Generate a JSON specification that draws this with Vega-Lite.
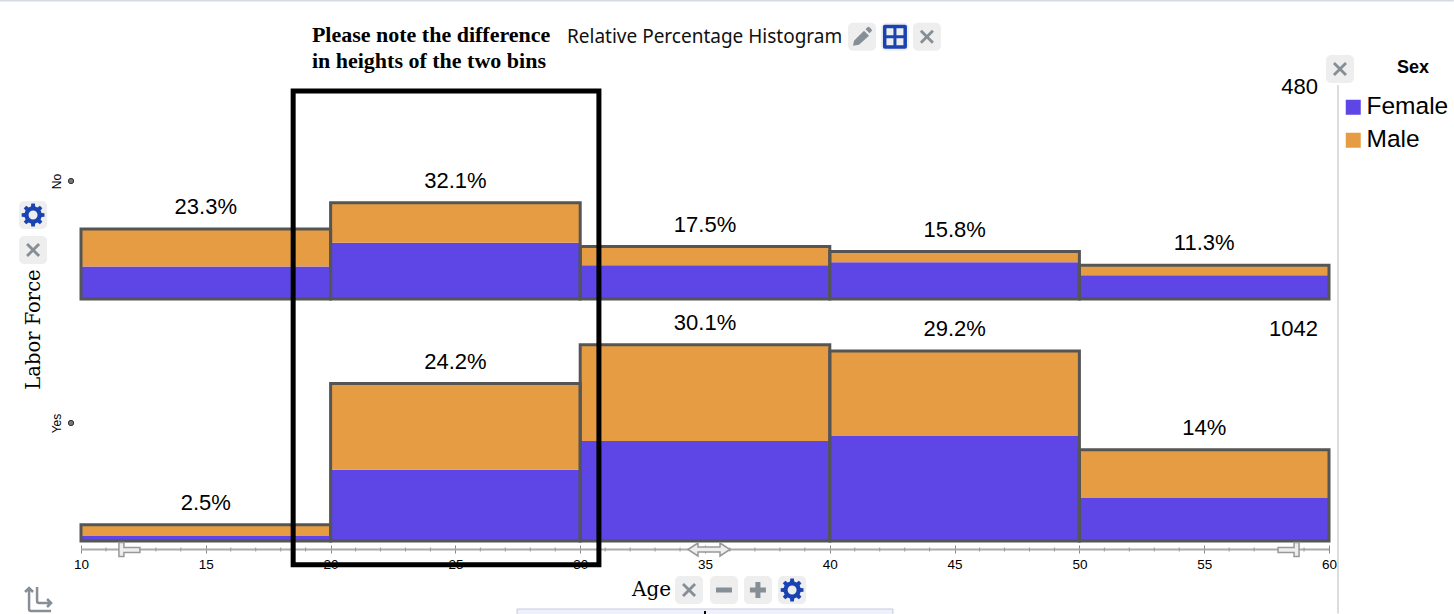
{
  "$schema": "https://vega.github.io/schema/vega-lite/v6.json",
  "width": 1248,
  "height": 541,
  "autosize": "none",
  "padding": {"left": 81, "top": 0, "right": 125, "bottom": 73},
  "background": "white",
  "datasets": {
    "bins": [
      {"labor": "No", "start": 10, "end": 20, "sex": "Female", "count": 52},
      {"labor": "No", "start": 10, "end": 20, "sex": "Male", "count": 60},
      {"labor": "No", "start": 20, "end": 30, "sex": "Female", "count": 90},
      {"labor": "No", "start": 20, "end": 30, "sex": "Male", "count": 64},
      {"labor": "No", "start": 30, "end": 40, "sex": "Female", "count": 54},
      {"labor": "No", "start": 30, "end": 40, "sex": "Male", "count": 30},
      {"labor": "No", "start": 40, "end": 50, "sex": "Female", "count": 59},
      {"labor": "No", "start": 40, "end": 50, "sex": "Male", "count": 17},
      {"labor": "No", "start": 50, "end": 60, "sex": "Female", "count": 38},
      {"labor": "No", "start": 50, "end": 60, "sex": "Male", "count": 16},
      {"labor": "Yes", "start": 10, "end": 20, "sex": "Female", "count": 8},
      {"labor": "Yes", "start": 10, "end": 20, "sex": "Male", "count": 18},
      {"labor": "Yes", "start": 20, "end": 30, "sex": "Female", "count": 114},
      {"labor": "Yes", "start": 20, "end": 30, "sex": "Male", "count": 138},
      {"labor": "Yes", "start": 30, "end": 40, "sex": "Female", "count": 160},
      {"labor": "Yes", "start": 30, "end": 40, "sex": "Male", "count": 154},
      {"labor": "Yes", "start": 40, "end": 50, "sex": "Female", "count": 168},
      {"labor": "Yes", "start": 40, "end": 50, "sex": "Male", "count": 136},
      {"labor": "Yes", "start": 50, "end": 60, "sex": "Female", "count": 69},
      {"labor": "Yes", "start": 50, "end": 60, "sex": "Male", "count": 77}
    ],
    "totals": [
      {"labor": "No", "start": 10, "end": 20, "mid": 15, "count": 112, "pct": "23.3%"},
      {"labor": "No", "start": 20, "end": 30, "mid": 25, "count": 154, "pct": "32.1%"},
      {"labor": "No", "start": 30, "end": 40, "mid": 35, "count": 84, "pct": "17.5%"},
      {"labor": "No", "start": 40, "end": 50, "mid": 45, "count": 76, "pct": "15.8%"},
      {"labor": "No", "start": 50, "end": 60, "mid": 55, "count": 54, "pct": "11.3%"},
      {"labor": "Yes", "start": 10, "end": 20, "mid": 15, "count": 26, "pct": "2.5%"},
      {"labor": "Yes", "start": 20, "end": 30, "mid": 25, "count": 252, "pct": "24.2%"},
      {"labor": "Yes", "start": 30, "end": 40, "mid": 35, "count": 314, "pct": "30.1%"},
      {"labor": "Yes", "start": 40, "end": 50, "mid": 45, "count": 304, "pct": "29.2%"},
      {"labor": "Yes", "start": 50, "end": 60, "mid": 55, "count": 146, "pct": "14%"}
    ],
    "rows": [
      {"labor": "No", "total": 480},
      {"labor": "Yes", "total": 1042}
    ],
    "minor": [
      {"age": 11}, {"age": 12}, {"age": 13}, {"age": 14}, {"age": 16}, {"age": 17}, {"age": 18}, {"age": 19},
      {"age": 21}, {"age": 22}, {"age": 23}, {"age": 24}, {"age": 26}, {"age": 27}, {"age": 28}, {"age": 29},
      {"age": 31}, {"age": 32}, {"age": 33}, {"age": 34}, {"age": 36}, {"age": 37}, {"age": 38}, {"age": 39},
      {"age": 41}, {"age": 42}, {"age": 43}, {"age": 44}, {"age": 46}, {"age": 47}, {"age": 48}, {"age": 49},
      {"age": 51}, {"age": 52}, {"age": 53}, {"age": 54}, {"age": 56}, {"age": 57}, {"age": 58}, {"age": 59}
    ]
  },
  "layer": [
    {
      "layer": [
        {
          "data": {"name": "bins"},
          "transform": [{"filter": "datum.labor == 'No'"}],
          "mark": {"type": "bar", "orient": "vertical"},
          "encoding": {
            "x": {
              "field": "start", "type": "quantitative", "title": "Age",
              "scale": {"domain": [10, 60], "nice": false, "padding": 0},
              "axis": {
                "offset": 4, "domain": false, "values": [10, 15, 20, 25, 30, 35, 40, 45, 50, 55, 60],
                "tickSize": 8, "tickColor": "#888", "tickWidth": 1, "grid": false,
                "labelFont": "Liberation Sans", "labelFontSize": 13.5, "labelColor": "#000", "labelPadding": 4, "labelFlush": false,
                "titleFont": "DejaVu Serif", "titleFontSize": 20, "titleFontWeight": "normal", "titleColor": "#000", "titleX": 570, "titleY": 34
              }
            },
            "x2": {"field": "end"},
            "y": {"field": "count", "type": "quantitative", "stack": "zero", "scale": {"domain": [0, 478.4], "range": [299, 0], "nice": false, "zero": false}, "axis": null},
            "color": {
              "field": "sex", "type": "nominal",
              "scale": {"domain": ["Female", "Male"], "range": ["#5e45e6", "#e59c43"]},
              "legend": {
                "title": null, "orient": "none", "legendX": 1260, "legendY": 95, "symbolType": "square", "symbolSize": 225,
                "symbolStrokeWidth": 0, "labelFont": "Liberation Sans", "labelFontSize": 24.5, "labelLimit": 200, "labelOffset": 1, "rowPadding": 8
              }
            },
            "order": {"field": "sex", "sort": "ascending"}
          }
        },
        {
          "data": {"name": "totals"},
          "transform": [{"filter": "datum.labor == 'No'"}],
          "mark": {"type": "rect", "fill": null, "stroke": "#555", "strokeWidth": 3},
          "encoding": {
            "x": {"field": "start", "type": "quantitative"},
            "x2": {"field": "end"},
            "y": {"field": "count", "type": "quantitative"},
            "y2": {"datum": 0}
          }
        },
        {
          "data": {"name": "totals"},
          "transform": [{"filter": "datum.labor == 'No'"}],
          "mark": {"type": "text", "font": "Liberation Sans", "fontSize": 22, "baseline": "middle", "dy": -22, "color": "#000"},
          "encoding": {
            "x": {"field": "mid", "type": "quantitative"},
            "y": {"field": "count", "type": "quantitative"},
            "text": {"field": "pct"}
          }
        },
        {
          "data": {"name": "rows"},
          "transform": [{"filter": "datum.labor == 'No'"}],
          "mark": {"type": "text", "font": "Liberation Sans", "fontSize": 22, "align": "right", "baseline": "middle", "color": "#000"},
          "encoding": {
            "x": {"datum": 59.56},
            "y": {"datum": 339},
            "text": {"field": "total"}
          }
        }
      ]
    },
    {
      "data": {"values": [{"note": "annotation"}]},
      "layer": [
        {
          "data": {"name": "bins"},
          "transform": [{"filter": "datum.labor == 'Yes'"}],
          "mark": {"type": "bar", "orient": "vertical"},
          "encoding": {
            "x": {"field": "start", "type": "quantitative"},
            "x2": {"field": "end"},
            "y": {"field": "count", "type": "quantitative", "stack": "zero", "scale": {"domain": [0, 865.6], "range": [541, 0], "nice": false, "zero": false}, "axis": null},
            "color": {"field": "sex", "type": "nominal"},
            "order": {"field": "sex", "sort": "ascending"}
          }
        },
        {
          "data": {"name": "totals"},
          "transform": [{"filter": "datum.labor == 'Yes'"}],
          "mark": {"type": "rect", "fill": null, "stroke": "#555", "strokeWidth": 3},
          "encoding": {
            "x": {"field": "start", "type": "quantitative"},
            "x2": {"field": "end"},
            "y": {"field": "count", "type": "quantitative"},
            "y2": {"datum": 0}
          }
        },
        {
          "data": {"name": "totals"},
          "transform": [{"filter": "datum.labor == 'Yes'"}],
          "mark": {"type": "text", "font": "Liberation Sans", "fontSize": 22, "baseline": "middle", "dy": -22, "color": "#000"},
          "encoding": {
            "x": {"field": "mid", "type": "quantitative"},
            "y": {"field": "count", "type": "quantitative"},
            "text": {"field": "pct"}
          }
        },
        {
          "data": {"name": "rows"},
          "transform": [{"filter": "datum.labor == 'Yes'"}],
          "mark": {"type": "text", "font": "Liberation Sans", "fontSize": 22, "align": "right", "baseline": "middle", "color": "#000"},
          "encoding": {
            "x": {"datum": 59.56},
            "y": {"datum": 339},
            "text": {"field": "total"}
          }
        },
        {
          "mark": {"type": "rule", "color": "#aaa", "strokeWidth": 2},
          "encoding": {"x": {"datum": 10}, "x2": {"datum": 60}, "y": {"datum": -13.6}}
        },
        {
          "data": {"name": "minor"},
          "mark": {"type": "rule", "color": "#999", "strokeWidth": 1},
          "encoding": {"x": {"field": "age", "type": "quantitative"}, "y": {"datum": -10.4}, "y2": {"datum": -16.8}}
        },
        {
          "mark": {"type": "point", "filled": true, "shape": "M-11-7H-6V-2H10V3H-6V7H-11Z", "size": 4, "fill": "#eee", "stroke": "#999", "strokeWidth": 1.5, "opacity": 1},
          "encoding": {"x": {"datum": 11.96}, "y": {"datum": -13.6}}
        },
        {
          "mark": {"type": "point", "filled": true, "shape": "M-21 0L-11-6.5V-2.5H11V-6.5L21 0L11 6.5V2.5H-11V6.5Z", "size": 4, "fill": "#eee", "stroke": "#999", "strokeWidth": 1.5, "opacity": 1},
          "encoding": {"x": {"datum": 35.16}, "y": {"datum": -13.6}}
        },
        {
          "mark": {"type": "point", "filled": true, "shape": "M10-7H5V-2H-11V3H5V7H10Z", "size": 4, "fill": "#eee", "stroke": "#999", "strokeWidth": 1.5, "opacity": 1},
          "encoding": {"x": {"datum": 58.4}, "y": {"datum": -13.6}}
        },
        {
          "mark": {"type": "rect", "fill": null, "stroke": "#000", "strokeWidth": 5},
          "encoding": {"x": {"datum": 18.5}, "x2": {"datum": 30.75}, "y": {"datum": 720}, "y2": {"datum": -38}}
        },
        {
          "mark": {"type": "text", "text": ["Please note the difference", "in heights of the two bins"], "font": "Liberation Serif", "fontWeight": "bold", "fontSize": 22, "lineHeight": 25.5, "align": "left", "baseline": "middle", "color": "#000"},
          "encoding": {"x": {"datum": 19.25}, "y": {"datum": 809}}
        },
        {
          "mark": {"type": "text", "text": "Relative Percentage Histogram", "font": "Noto Sans", "fontSize": 19, "align": "left", "baseline": "middle", "color": "#111"},
          "encoding": {"x": {"datum": 29.47}, "y": {"datum": 806.4}}
        },
        {
          "mark": {"type": "text", "text": "Sex", "font": "Liberation Sans", "fontWeight": "bold", "fontSize": 18, "baseline": "middle", "color": "#000"},
          "encoding": {"x": {"datum": 63.37}, "y": {"datum": 756.8}}
        },
        {
          "mark": {"type": "rule", "color": "#d5dbe0", "strokeWidth": 2},
          "encoding": {"x": {"datum": 6.76}, "x2": {"datum": 65}, "y": {"datum": 865}}
        },
        {
          "mark": {"type": "rule", "color": "#ddd", "strokeWidth": 2},
          "encoding": {"x": {"datum": 60.36}, "y": {"datum": 729.6}, "y2": {"datum": -116}}
        },
        {
          "mark": {"type": "rect", "fill": "#eef1fb", "stroke": "#c5cbe0", "strokeWidth": 1},
          "encoding": {"x": {"datum": 27.47}, "x2": {"datum": 42.53}, "y": {"datum": -108.8}, "y2": {"datum": -126.4}}
        },
        {
          "mark": {"type": "rule", "color": "#000", "strokeWidth": 2},
          "encoding": {"x": {"datum": 35}, "y": {"datum": -112}, "y2": {"datum": -118}}
        },
        {
          "mark": {"type": "point", "filled": true, "shape": "M-9-14H9A5 5 0 0 1 14-9V9A5 5 0 0 1 9 14H-9A5 5 0 0 1-14 9V-9A5 5 0 0 1-9-14Z", "size": 4, "fill": "#eee", "opacity": 1},
          "encoding": {"x": {"datum": 41.29}, "y": {"datum": 807}}
        },
        {
          "mark": {"type": "point", "filled": true, "shape": "M-9-14H9A5 5 0 0 1 14-9V9A5 5 0 0 1 9 14H-9A5 5 0 0 1-14 9V-9A5 5 0 0 1-9-14Z", "size": 4, "fill": "#eee", "opacity": 1},
          "encoding": {"x": {"datum": 42.61}, "y": {"datum": 807}}
        },
        {
          "mark": {"type": "point", "filled": true, "shape": "M-9-14H9A5 5 0 0 1 14-9V9A5 5 0 0 1 9 14H-9A5 5 0 0 1-14 9V-9A5 5 0 0 1-9-14Z", "size": 4, "fill": "#eee", "opacity": 1},
          "encoding": {"x": {"datum": 43.89}, "y": {"datum": 807}}
        },
        {
          "mark": {"type": "point", "filled": true, "shape": "M-9-14H9A5 5 0 0 1 14-9V9A5 5 0 0 1 9 14H-9A5 5 0 0 1-14 9V-9A5 5 0 0 1-9-14Z", "size": 4, "fill": "#eee", "opacity": 1},
          "encoding": {"x": {"datum": 60.44}, "y": {"datum": 755.2}}
        },
        {
          "mark": {"type": "point", "filled": true, "shape": "M-9-14H9A5 5 0 0 1 14-9V9A5 5 0 0 1 9 14H-9A5 5 0 0 1-14 9V-9A5 5 0 0 1-9-14Z", "size": 4, "fill": "#eee", "opacity": 1},
          "encoding": {"x": {"datum": 8.08}, "y": {"datum": 521.6}}
        },
        {
          "mark": {"type": "point", "filled": true, "shape": "M-9-14H9A5 5 0 0 1 14-9V9A5 5 0 0 1 9 14H-9A5 5 0 0 1-14 9V-9A5 5 0 0 1-9-14Z", "size": 4, "fill": "#eee", "opacity": 1},
          "encoding": {"x": {"datum": 8.08}, "y": {"datum": 465.6}}
        },
        {
          "mark": {"type": "point", "filled": true, "shape": "M-9-14H9A5 5 0 0 1 14-9V9A5 5 0 0 1 9 14H-9A5 5 0 0 1-14 9V-9A5 5 0 0 1-9-14Z", "size": 4, "fill": "#eee", "opacity": 1},
          "encoding": {"x": {"datum": 34.36}, "y": {"datum": -78.4}}
        },
        {
          "mark": {"type": "point", "filled": true, "shape": "M-9-14H9A5 5 0 0 1 14-9V9A5 5 0 0 1 9 14H-9A5 5 0 0 1-14 9V-9A5 5 0 0 1-9-14Z", "size": 4, "fill": "#eee", "opacity": 1},
          "encoding": {"x": {"datum": 35.76}, "y": {"datum": -78.4}}
        },
        {
          "mark": {"type": "point", "filled": true, "shape": "M-9-14H9A5 5 0 0 1 14-9V9A5 5 0 0 1 9 14H-9A5 5 0 0 1-14 9V-9A5 5 0 0 1-9-14Z", "size": 4, "fill": "#eee", "opacity": 1},
          "encoding": {"x": {"datum": 37.12}, "y": {"datum": -78.4}}
        },
        {
          "mark": {"type": "point", "filled": true, "shape": "M-9-14H9A5 5 0 0 1 14-9V9A5 5 0 0 1 9 14H-9A5 5 0 0 1-14 9V-9A5 5 0 0 1-9-14Z", "size": 4, "fill": "#eee", "opacity": 1},
          "encoding": {"x": {"datum": 38.49}, "y": {"datum": -78.4}}
        },
        {
          "mark": {"type": "point", "filled": true, "shape": "M-9 9L-8 4L2-6L7-1L-3 8ZM3.5-7.5L5.5-9.5Q6.5-10.5 7.5-9.5L9.5-7.5Q10.5-6.5 9.5-5.5L7.5-3.5Z", "size": 4, "fill": "#868e96", "opacity": 1},
          "encoding": {"x": {"datum": 41.29}, "y": {"datum": 807}}
        },
        {
          "mark": {"type": "point", "filled": true, "shape": "M-10-12H10A2 2 0 0 1 12-10V10A2 2 0 0 1 10 12H-10A2 2 0 0 1-12 10V-10A2 2 0 0 1-10-12ZM-8.5-8.5V-1.5H-1.5V-8.5ZM1.5-8.5V-1.5H8.5V-8.5ZM-8.5 1.5V8.5H-1.5V1.5ZM1.5 1.5V8.5H8.5V1.5Z", "size": 4, "fill": "#1a43b2", "opacity": 1},
          "encoding": {"x": {"datum": 42.61}, "y": {"datum": 807}}
        },
        {
          "mark": {"type": "point", "filled": true, "shape": "M-7-5L-5-7L0-2L5-7L7-5L2 0L7 5L5 7L0 2L-5 7L-7 5L-2 0Z", "size": 4, "fill": "#868e96", "opacity": 1},
          "encoding": {"x": {"datum": 43.89}, "y": {"datum": 807}}
        },
        {
          "mark": {"type": "point", "filled": true, "shape": "M-7-5L-5-7L0-2L5-7L7-5L2 0L7 5L5 7L0 2L-5 7L-7 5L-2 0Z", "size": 4, "fill": "#868e96", "opacity": 1},
          "encoding": {"x": {"datum": 60.44}, "y": {"datum": 755.2}}
        },
        {
          "mark": {"type": "point", "filled": true, "shape": "M8.5-2.1L11.4-1.8L11.4 1.8L8.5 2.1L7.5 4.5L9.3 6.8L6.8 9.3L4.5 7.5L2.1 8.5L1.8 11.4L-1.8 11.4L-2.1 8.5L-4.5 7.5L-6.8 9.3L-9.3 6.8L-7.5 4.5L-8.5 2.1L-11.4 1.8L-11.4-1.8L-8.5-2.1L-7.5-4.5L-9.3-6.8L-6.8-9.3L-4.5-7.5L-2.1-8.5L-1.8-11.4L1.8-11.4L2.1-8.5L4.5-7.5L6.8-9.3L9.3-6.8L7.5-4.5ZM4.5 0A4.5 4.5 0 0 0-4.5 0A4.5 4.5 0 0 0 4.5 0Z", "size": 4, "fill": "#1a43b2", "opacity": 1},
          "encoding": {"x": {"datum": 8.08}, "y": {"datum": 521.6}}
        },
        {
          "mark": {"type": "point", "filled": true, "shape": "M-7-5L-5-7L0-2L5-7L7-5L2 0L7 5L5 7L0 2L-5 7L-7 5L-2 0Z", "size": 4, "fill": "#868e96", "opacity": 1},
          "encoding": {"x": {"datum": 8.08}, "y": {"datum": 465.6}}
        },
        {
          "mark": {"type": "point", "filled": true, "shape": "M-7-5L-5-7L0-2L5-7L7-5L2 0L7 5L5 7L0 2L-5 7L-7 5L-2 0Z", "size": 4, "fill": "#868e96", "opacity": 1},
          "encoding": {"x": {"datum": 34.36}, "y": {"datum": -78.4}}
        },
        {
          "mark": {"type": "point", "filled": true, "shape": "M-8-2.5H8V2.5H-8Z", "size": 4, "fill": "#868e96", "opacity": 1},
          "encoding": {"x": {"datum": 35.76}, "y": {"datum": -78.4}}
        },
        {
          "mark": {"type": "point", "filled": true, "shape": "M-2.5-8H2.5V-2.5H8V2.5H2.5V8H-2.5V2.5H-8V-2.5H-2.5Z", "size": 4, "fill": "#868e96", "opacity": 1},
          "encoding": {"x": {"datum": 37.12}, "y": {"datum": -78.4}}
        },
        {
          "mark": {"type": "point", "filled": true, "shape": "M8.5-2.1L11.4-1.8L11.4 1.8L8.5 2.1L7.5 4.5L9.3 6.8L6.8 9.3L4.5 7.5L2.1 8.5L1.8 11.4L-1.8 11.4L-2.1 8.5L-4.5 7.5L-6.8 9.3L-9.3 6.8L-7.5 4.5L-8.5 2.1L-11.4 1.8L-11.4-1.8L-8.5-2.1L-7.5-4.5L-9.3-6.8L-6.8-9.3L-4.5-7.5L-2.1-8.5L-1.8-11.4L1.8-11.4L2.1-8.5L4.5-7.5L6.8-9.3L9.3-6.8L7.5-4.5ZM4.5 0A4.5 4.5 0 0 0-4.5 0A4.5 4.5 0 0 0 4.5 0Z", "size": 4, "fill": "#1a43b2", "opacity": 1},
          "encoding": {"x": {"datum": 38.49}, "y": {"datum": -78.4}}
        },
        {
          "mark": {"type": "point", "filled": false, "shape": "M-11-11V9Q-11 11-9 11H11M-15-8L-11-12L-7-8M-3-13V1Q-3 3-1 3H10M7-1L11 3L7 7", "size": 4, "stroke": "#868e96", "strokeWidth": 2.5, "opacity": 1},
          "encoding": {"x": {"datum": 8.36}, "y": {"datum": -94.4}}
        }
      ]
    },
    {
      "data": {"name": "rows"},
      "mark": {"type": "point", "filled": true, "size": 28, "fill": "#777", "stroke": "#333", "strokeWidth": 1, "opacity": 1},
      "encoding": {
        "x": {"datum": 9.6},
        "y": {
          "field": "labor", "type": "nominal",
          "scale": {"type": "point", "domain": ["No", "Yes"], "range": [181, 423], "padding": 0},
          "axis": {
            "orient": "left", "domain": false, "ticks": false, "labelAngle": -90, "labelAlign": "center", "labelBaseline": "bottom", "labelPadding": 18,
            "labelFont": "Liberation Sans", "labelFontSize": 12, "labelColor": "#000", "title": "Labor Force",
            "titleFont": "DejaVu Serif", "titleFontSize": 19.5, "titleFontWeight": "normal", "titleColor": "#000", "titleX": -38, "titleY": 329
          }
        }
      }
    }
  ],
  "resolve": {"scale": {"y": "independent"}, "axis": {"y": "independent"}},
  "config": {"view": {"stroke": null}}
}
